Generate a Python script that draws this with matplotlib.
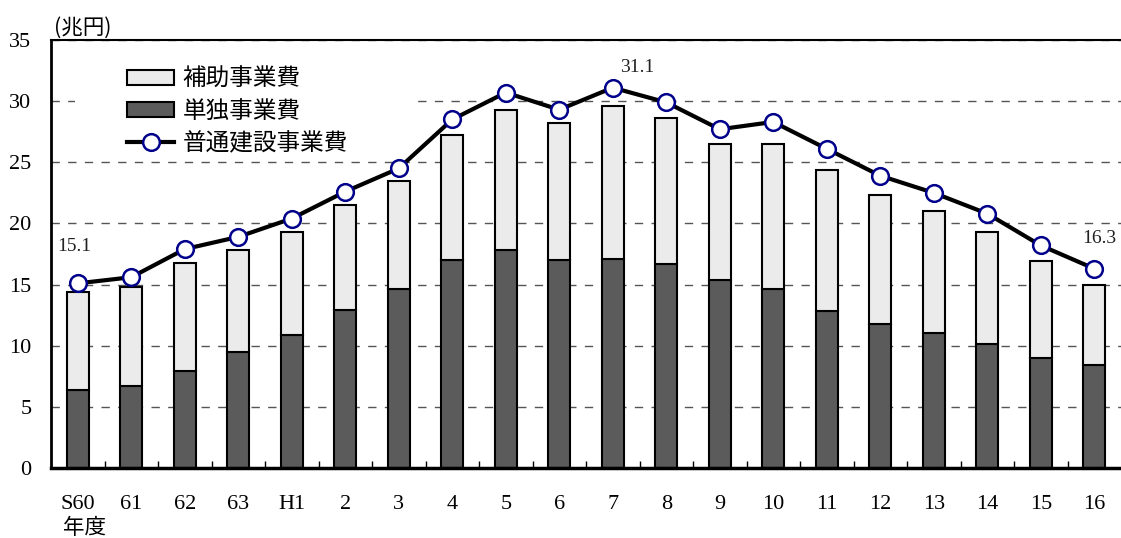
"""
普通建設事業費の推移（補助事業費・単独事業費の積み上げ棒＋合計の折れ線）
"""
import numpy as np
import matplotlib.pyplot as plt
from matplotlib.patches import Patch, Rectangle
from matplotlib.lines import Line2D
from matplotlib.ticker import FixedLocator

#%% data (兆円)
years = ['S60', '61', '62', '63', 'H1', '2', '3', '4', '5', '6',
         '7', '8', '9', '10', '11', '12', '13', '14', '15', '16']
tandoku = [6.4, 6.7, 7.9, 9.5, 10.9, 12.9, 14.6, 17.0, 17.8, 17.0,
           17.1, 16.7, 15.4, 14.6, 12.8, 11.8, 11.0, 10.1, 9.0, 8.4]
bar_total = [14.4, 14.8, 16.8, 17.8, 19.3, 21.5, 23.5, 27.2, 29.3, 28.2,
             29.6, 28.6, 26.5, 26.5, 24.4, 22.3, 21.0, 19.3, 16.9, 15.0]
hojo = [round(t - d, 1) for t, d in zip(bar_total, tandoku)]
futsu = [15.1, 15.6, 17.9, 18.9, 20.4, 22.6, 24.5, 28.5, 30.7, 29.3,
         31.1, 29.9, 27.7, 28.3, 26.1, 23.9, 22.5, 20.8, 18.2, 16.3]
labelled = [0, 10, 19]

#%% fonts
serif = ['Liberation Serif', 'DejaVu Serif']
jp = ['Noto Sans CJK JP', 'DejaVu Sans']

#%% figure
fig = plt.figure(figsize=(11.21, 5.38), dpi=100)
ax = fig.add_axes([51/1121, 1-468/538, 1-51/1121, (468-40)/538])

x = np.arange(len(years))
w = 0.41
ax.bar(x, tandoku, w, color='#5b5b5b', edgecolor='black', linewidth=1.5, zorder=2)
ax.bar(x, hojo, w, bottom=tandoku, color='#ebebeb', edgecolor='black', linewidth=1.5, zorder=2)
ax.plot(x, futsu, color='black', linewidth=3, marker='o', markersize=12,
        markerfacecolor='white', markeredgecolor='#00008b', markeredgewidth=1.8, zorder=4)

# value labels (offsets in pixels from the marker)
offsets = {0: (-3, 37), 10: (24, 20), 19: (5, 30)}
for i in labelled:
    dx, dy = offsets[i]
    ax.annotate(f'{futsu[i]:.1f}', (x[i], futsu[i]), xytext=(dx*0.72, dy*0.72),
                textcoords='offset points', ha='center', va='center',
                fontsize=14, family=serif, color='#222222')

ax.set_xlim(-0.5, len(years) - 0.5)
ax.set_ylim(0, 35)
ax.set_yticks(np.arange(0, 36, 5))
ax.set_yticklabels([str(v) for v in range(0, 36, 5)], family=serif, fontsize=16)
ax.set_xticks(x)
ax.set_xticklabels(years, family=serif, fontsize=16)
ax.xaxis.set_minor_locator(FixedLocator(x[:-1] + 0.5))
ax.tick_params(axis='x', which='major', length=0, pad=19.5)
ax.tick_params(axis='x', which='minor', direction='in', length=5, width=1)
ax.tick_params(axis='y', length=0, pad=14)

ax.yaxis.grid(True, linestyle=(0, (6, 6)), color='#555555', linewidth=1)
ax.set_axisbelow(True)
ax.spines['right'].set_visible(False)
ax.spines['left'].set_linewidth(2)
ax.spines['bottom'].set_linewidth(2.5)
ax.spines['top'].set_linewidth(1.5)

fig.text(54/1121, 1-28/538, '(兆円)', family=jp, fontsize=15.5, ha='left', va='center')
fig.text(85/1121, 1-528/538, '年度', family=jp, fontsize=15.5, ha='center', va='center')

# white box behind the legend hides the gridlines there
ax.add_patch(Rectangle((75/1121, 1-158/538), 335/1121, 113/538, transform=fig.transFigure,
                       facecolor='white', edgecolor='none', zorder=1))

handles = [Patch(facecolor='#ebebeb', edgecolor='black', linewidth=1.5),
           Patch(facecolor='#5b5b5b', edgecolor='black', linewidth=1.5),
           Line2D([], [], color='black', linewidth=3, marker='o', markersize=12,
                  markerfacecolor='white', markeredgecolor='#00008b', markeredgewidth=1.8)]
leg = ax.legend(handles, ['補助事業費', '単独事業費', '普通建設事業費'],
                loc='upper left', bbox_to_anchor=(127/1121, 1-68/538),
                bbox_transform=fig.transFigure, prop={'family': jp, 'size': 17},
                frameon=False, handlelength=2.0, handleheight=0.6, handletextpad=0.35,
                labelspacing=0.38, borderpad=0, borderaxespad=0)
leg.set_zorder(5)

fig.savefig('out.png', dpi=100)
